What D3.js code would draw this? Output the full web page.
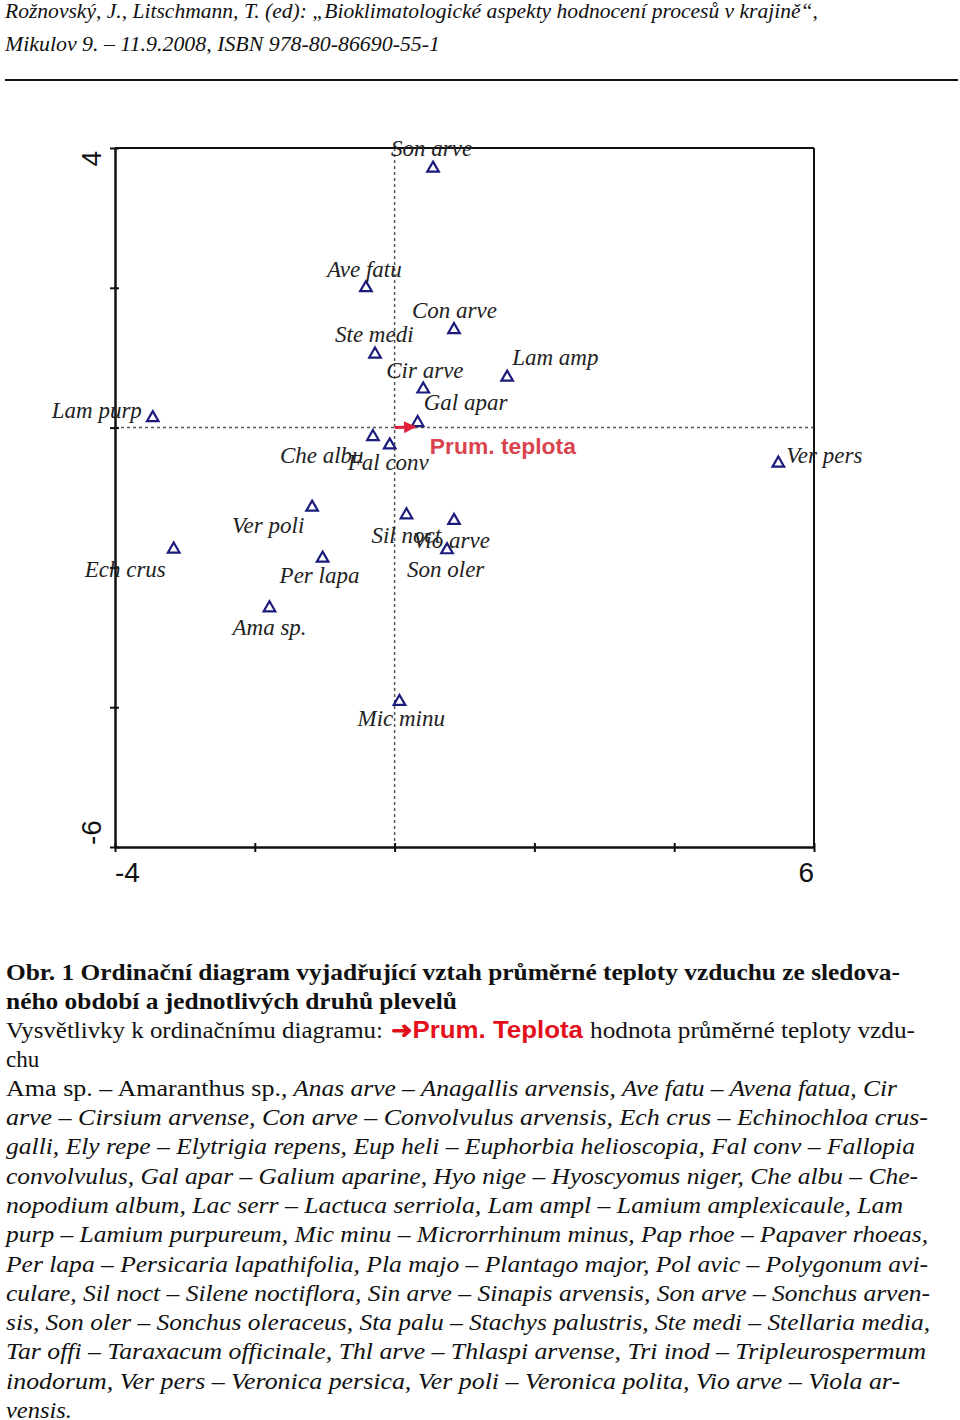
<!DOCTYPE html>
<html><head><meta charset="utf-8">
<script src="https://cdn.jsdelivr.net/npm/d3@7"></script>
<style>body{margin:0;background:#fff}</style>
</head><body>
<svg id="c" width="960" height="1420" xmlns="http://www.w3.org/2000/svg"></svg>
<script>
// ---- data ----
const species = ["Son arve","Ave fatu","Con arve","Ste medi","Lam amp","Cir arve","Lam purp","Gal apar","Che albu","Fal conv","Ver pers","Ver poli","Sil noct","Vio arve","Son oler","Ech crus","Per lapa","Ama sp.","Mic minu"];
const axis1 = [0.55,-0.41,0.85,-0.28,1.61,0.41,-3.46,0.33,-0.31,-0.07,5.49,-1.18,0.17,0.85,0.75,-3.16,-1.03,-1.79,0.07];
const axis2 = [3.71,2.00,1.40,1.05,0.72,0.55,0.14,0.07,-0.13,-0.25,-0.51,-1.14,-1.25,-1.33,-1.75,-1.74,-1.87,-2.58,-3.92];
const envName = "Prum. teplota";
const envX = [0, 0.29];
const envY = [0, 0.01];
const xTicks = [-4,-2,0,2,4,6];
const yTicks = [-6,-4,-2,0,2,4];
const xTickLabels = ["-4","6"];
const yTickLabels = ["4","-6"];

// ---- layout (pixel offsets of species labels from their markers) ----
const labelDx = [-42,-39,-42,-40,5,-37,-101,6,-93,-42,8,-80,-35,-41,-40,-89,-43,-37,-42];
const labelDy = [-12,-11,-12,-12,-12,-11,0,-13,26,25,0,26,28,27,27,28,25,27,24];

const svg = d3.select("#c");
svg.append("rect").attr("width",960).attr("height",1420).attr("fill","#fff");

// header
const serif = "'Liberation Serif','Times New Roman',serif";
const sans = "'Liberation Sans',Arial,sans-serif";
function fitText(sel, w){ sel.attr("textLength", w).attr("lengthAdjust","spacingAndGlyphs"); return sel; }
fitText(svg.append("text").attr("x",5).attr("y",18).attr("font-family",serif).attr("font-style","italic").attr("font-size",21).attr("fill","#111")
  .text("Rožnovský, J., Litschmann, T. (ed): „Bioklimatologické aspekty hodnocení procesů v krajině“,"), 813);
fitText(svg.append("text").attr("x",5).attr("y",51).attr("font-family",serif).attr("font-style","italic").attr("font-size",21).attr("fill","#111")
  .text("Mikulov 9. –  11.9.2008, ISBN 978-80-86690-55-1"), 435);
svg.append("line").attr("x1",5).attr("x2",958).attr("y1",80).attr("y2",80).attr("stroke","#111").attr("stroke-width",2);

// ---- chart ----
const x = d3.scaleLinear().domain([-4,6]).range([115,814]);
const y = d3.scaleLinear().domain([-6,4]).range([847,148]);

const g = svg.append("g");
// dotted zero lines
g.append("line").attr("x1",x(0)).attr("x2",x(0)).attr("y1",y(4)).attr("y2",y(-6))
  .attr("stroke","#555").attr("stroke-width",1.5).attr("stroke-dasharray","3,3");
g.append("line").attr("x1",x(-4)).attr("x2",x(6)).attr("y1",y(0)).attr("y2",y(0))
  .attr("stroke","#555").attr("stroke-width",1.5).attr("stroke-dasharray","3,3");

// frame top/right
g.append("line").attr("x1",x(-4)).attr("x2",x(6)).attr("y1",y(4)).attr("y2",y(4)).attr("stroke","#111").attr("stroke-width",2);
g.append("line").attr("x1",x(6)).attr("x2",x(6)).attr("y1",y(4)).attr("y2",y(-6)).attr("stroke","#111").attr("stroke-width",2);

// axes
const ax = g.append("g").attr("transform",`translate(0,${y(-6)})`)
  .call(d3.axisBottom(x).tickValues(xTicks).tickFormat("").tickSizeOuter(0));
ax.select(".domain").attr("stroke","#111").attr("stroke-width",2.5);
ax.selectAll(".tick line").attr("y1",-4).attr("y2",5).attr("stroke","#111").attr("stroke-width",2);
const ay = g.append("g").attr("transform",`translate(${x(-4)},0)`)
  .call(d3.axisLeft(y).tickValues(yTicks).tickFormat("").tickSizeOuter(0));
ay.select(".domain").attr("stroke","#111").attr("stroke-width",2.5);
ay.selectAll(".tick line").attr("x1",-5).attr("x2",4).attr("stroke","#111").attr("stroke-width",2);

// tick labels at extremes
g.append("text").attr("x",x(-4)).attr("y",y(-6)+35).attr("font-family",sans).attr("font-size",28).attr("fill","#111")
  .attr("text-anchor","start").text(xTickLabels[0]);
g.append("text").attr("x",x(6)).attr("y",y(-6)+35).attr("font-family",sans).attr("font-size",28).attr("fill","#111")
  .attr("text-anchor","end").text(xTickLabels[1]);
g.append("text").attr("transform",`translate(${x(-4)-14},${y(4)+3}) rotate(-90)`).attr("font-family",sans).attr("font-size",28).attr("fill","#111")
  .attr("text-anchor","end").text(yTickLabels[0]);
g.append("text").attr("transform",`translate(${x(-4)-14},${y(-6)-2}) rotate(-90)`).attr("font-family",sans).attr("font-size",28).attr("fill","#111")
  .attr("text-anchor","start").text(yTickLabels[1]);

// species markers
const tri = d3.symbol().type(d3.symbolTriangle).size(58);
g.selectAll("path.sp").data(species).join("path").attr("class","sp")
  .attr("d",tri).attr("transform",(d,i)=>`translate(${x(axis1[i])},${y(axis2[i])})`)
  .attr("fill","none").attr("stroke","#1b1b7c").attr("stroke-width",2.2);

// species labels
g.selectAll("text.lab").data(species).join("text").attr("class","lab")
  .attr("x",(d,i)=>x(axis1[i])+labelDx[i]).attr("y",(d,i)=>y(axis2[i])+labelDy[i])
  .attr("font-family",serif).attr("font-style","italic").attr("font-size",23).attr("fill","#222")
  .text(d=>d);

// environmental arrow
svg.append("defs").append("marker").attr("id","ah").attr("viewBox","0 0 10 10").attr("refX",9).attr("refY",5)
  .attr("markerWidth",5).attr("markerHeight",4).attr("orient","auto").attr("markerUnits","strokeWidth")
  .append("path").attr("d","M0,0L10,5L0,10z").attr("fill","#e0203a");
g.append("line").attr("x1",x(envX[0])).attr("y1",y(envY[0])).attr("x2",x(envX[1])).attr("y2",y(envY[1]))
  .attr("stroke","#e0203a").attr("stroke-width",3).attr("marker-end","url(#ah)");
fitText(g.append("text").attr("x",x(envX[1])+15).attr("y",y(envY[1])+27).attr("font-family",sans).attr("font-weight","bold")
  .attr("font-size",22.5).attr("fill","#d9434e").text(envName), 146);

// ---- caption ----
const cap = svg.append("g").attr("font-family",serif).attr("fill","#111");
fitText(cap.append("text").attr("x",6).attr("y",980).attr("font-size",23).attr("font-weight","bold")
  .text("Obr. 1 Ordinační diagram vyjadřující vztah průměrné teploty vzduchu ze sledova-"), 894);
fitText(cap.append("text").attr("x",6).attr("y",1009).attr("font-size",23).attr("font-weight","bold")
  .text("ného období a jednotlivých druhů plevelů"), 451);
fitText(cap.append("text").attr("x",6).attr("y",1038).attr("font-size",23)
  .text("Vysvětlivky k ordinačnímu diagramu: "), 377);
fitText(cap.append("text").attr("x",391).attr("y",1038).attr("font-size",23).attr("font-family",sans).attr("font-weight","bold").attr("fill","#e3101c")
  .text("➜Prum. Teplota"), 192);
fitText(cap.append("text").attr("x",590).attr("y",1038).attr("font-size",23)
  .text("hodnota průměrné teploty vzdu-"), 325);
cap.append("text").attr("x",6).attr("y",1067).attr("font-size",23).text("chu");

fitText(cap.append("text").attr("x",6).attr("y",1096).attr("font-size",23).text("Ama sp. – Amaranthus sp."), 275);
fitText(cap.append("text").attr("x",281).attr("y",1096).attr("font-size",23).attr("font-style","italic")
  .text(", Anas arve – Anagallis arvensis, Ave fatu – Avena fatua, Cir"), 616);

const capLines = [
 "arve – Cirsium arvense, Con arve – Convolvulus arvensis, Ech crus – Echinochloa crus-",
 "galli, Ely repe – Elytrigia repens, Eup heli – Euphorbia helioscopia, Fal conv – Fallopia",
 "convolvulus, Gal apar – Galium aparine, Hyo nige – Hyoscyomus niger, Che albu – Che-",
 "nopodium album, Lac serr –  Lactuca serriola, Lam ampl – Lamium amplexicaule, Lam",
 "purp – Lamium purpureum, Mic minu – Microrrhinum minus, Pap rhoe – Papaver rhoeas,",
 "Per lapa – Persicaria lapathifolia, Pla majo – Plantago major, Pol avic – Polygonum avi-",
 "culare, Sil noct – Silene noctiflora, Sin arve – Sinapis arvensis, Son arve – Sonchus arven-",
 "sis, Son oler – Sonchus oleraceus, Sta palu – Stachys palustris, Ste medi – Stellaria media,",
 "Tar offi – Taraxacum officinale, Thl arve – Thlaspi arvense, Tri inod – Tripleurospermum",
 "inodorum, Ver pers – Veronica persica, Ver poli – Veronica polita, Vio arve – Viola ar-",
 "vensis."
];
const capWidths = [922,909,912,897,922,922,924,924,920,894,66];
capLines.forEach((t,i)=>{
  fitText(cap.append("text").attr("x",6).attr("y",1125+i*29.3).attr("font-size",23).attr("font-style","italic").text(t), capWidths[i]);
});
</script>
</body></html>
